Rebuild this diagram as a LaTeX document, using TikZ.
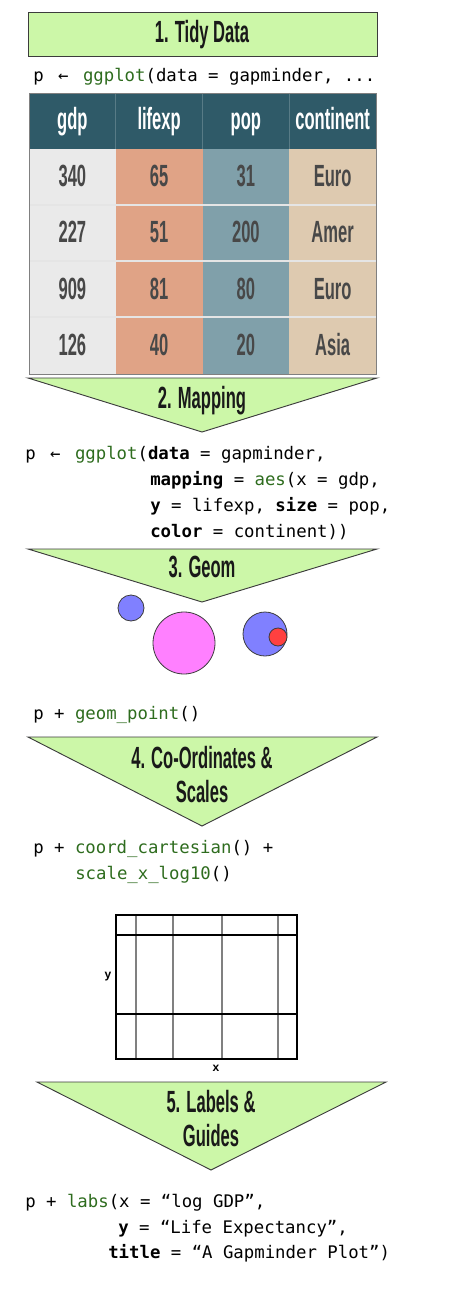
\documentclass[tikz,border=0pt]{standalone}
\usepackage{fontspec}
\usepackage{xcolor}
\usetikzlibrary{positioning}
\newfontfamily\headfont[FakeStretch=0.54]{Liberation Sans}
\newfontfamily\codefont{DejaVu Sans Mono}
\newfontfamily\axisfont{Liberation Sans}
\definecolor{stagegreen}{RGB}{204,247,168}
\definecolor{edgegray}{RGB}{60,60,60}
\definecolor{headteal}{RGB}{47,90,104}
\definecolor{gdpgray}{RGB}{234,234,234}
\definecolor{lifesalmon}{RGB}{224,163,134}
\definecolor{popteal}{RGB}{128,160,170}
\definecolor{contsand}{RGB}{222,202,176}
\definecolor{celltext}{RGB}{72,72,72}
\definecolor{codegreen}{RGB}{46,108,30}
\definecolor{ptblue}{RGB}{128,128,255}
\definecolor{ptpink}{RGB}{255,128,255}
\definecolor{ptred}{RGB}{255,64,64}
\newcommand{\fn}[1]{\textcolor{codegreen}{#1}}
\newcommand{\arr}{\kern3pt←\kern3pt}

\begin{document}
\begin{tikzpicture}[x=0.75pt, y=-0.75pt,
  stage/.style={fill=stagegreen, draw=edgegray, line width=0.7pt},
  stagetext/.style={font=\headfont\bfseries\fontsize{23}{25.5}\selectfont, text=black!90, anchor=base, inner sep=0pt, align=center},
  celltext/.style={font=\headfont\bfseries\fontsize{23}{26}\selectfont, text=celltext, anchor=base, inner sep=0pt},
  headtext/.style={celltext, text=white},
  codeline/.style={font=\codefont\fontsize{13}{19.5}\selectfont, anchor=base west, inner sep=0pt},
  axislabel/.style={font=\axisfont\bfseries\fontsize{9}{10}\selectfont, inner sep=0pt}]
  \useasboundingbox (0,0) rectangle (459,1291);

  % 1. tidy data
  \draw[stage] (28,12) rectangle (377,56);
  \node[stagetext] (tidy) at (202,43) {1. Tidy Data};
  \node[codeline] (codedata) at (33,82) {p \arr{} \fn{ggplot}(data = gapminder, ...};

  % table
  \def\rowh{56} \def\colw{86.75}
  \fill[headteal] (29,93) rectangle (376,149);
  \foreach \colr [count=\i from 0] in {gdpgray, lifesalmon, popteal, contsand}
    \fill[\colr] (29+\i*\colw,149) rectangle (29+\i*\colw+\colw,374);
  \foreach \i in {1,2,3}
    \draw[headteal!80!white, line width=0.6pt] (29+\i*\colw,93) -- (29+\i*\colw,149);
  \foreach \r in {1,2,3}
    \draw[white!80!gray, line width=0.8pt] (29,149+\r*\rowh) -- (376,149+\r*\rowh);
  \draw[gray, line width=0.6pt] (29,93) rectangle (376,374);
  \foreach \h [count=\i from 0] in {gdp, lifexp, pop, continent}
    \node[headtext] (head\i) at (29+\i*\colw+\colw/2,130) {\h};
  \foreach \a/\b/\c/\d [count=\r from 0] in {340/65/31/Euro, 227/51/200/Amer,
      909/81/80/Euro, 126/40/20/Asia} {
    \node[celltext] (gdp\r) at (29+0.5*\colw,187+\r*\rowh) {\a};
    \node[celltext] (life\r) at (29+1.5*\colw,187+\r*\rowh) {\b};
    \node[celltext] (pop\r) at (29+2.5*\colw,187+\r*\rowh) {\c};
    \node[celltext] (cont\r) at (29+3.5*\colw,187+\r*\rowh) {\d};
  }

  % 2. mapping
  \draw[stage] (28,378) -- (377,378) -- (202,432) -- cycle;
  \node[stagetext] (mapping) at (202,408) {2. Mapping};
  \node[codeline] (codemap) at (25,459) {p \arr{} \fn{ggplot}(\textbf{data} = gapminder,};
  \node[codeline] (codemapa) at (150,485) {\textbf{mapping} = \fn{aes}(x = gdp,};
  \node[codeline] (codemapb) at (150,511) {\textbf{y} = lifexp, \textbf{size} = pop,};
  \node[codeline] (codemapc) at (150,537) {\textbf{color} = continent))};

  % 3. geom
  \draw[stage] (28,549) -- (377,549) -- (202,602) -- cycle;
  \node[stagetext] (geom) at (202,577) {3. Geom};
  \filldraw[fill=ptblue, draw=edgegray, line width=0.6pt] (131,608) circle (13);
  \filldraw[fill=ptpink, draw=edgegray, line width=0.6pt] (184,643) circle (31);
  \filldraw[fill=ptblue, draw=edgegray, line width=0.6pt] (265,634) circle (22);
  \filldraw[fill=ptred, draw=edgegray, line width=0.6pt] (278,637) circle (9);
  \node[codeline] (codegeom) at (33,719) {p + \fn{geom\_point}()};

  % 4. co-ordinates & scales (base = last line)
  \draw[stage] (28,737) -- (377,737) -- (202,826) -- cycle;
  \node[stagetext] (coords) at (202,802) {4. Co-Ordinates \&\\Scales};
  \node[codeline] (codecoord) at (33,853) {p + \fn{coord\_cartesian}() +};
  \node[codeline] (codescale) at (75,879) {\fn{scale\_x\_log10}()};

  % panel grid
  \foreach \x in {136,173,222,278}
    \draw[gray, line width=1.1pt] (\x,915) -- (\x,1059);
  \foreach \y in {935,1014}
    \draw[black, line width=0.8pt] (116,\y) -- (297,\y);
  \draw[black, line width=1.5pt] (116,915) rectangle (297,1059);
  \node[axislabel] (ylab) at (108,977) {y};
  \node[axislabel] (xlab) at (216,1068) {x};

  % 5. labels & guides
  \draw[stage] (37,1082) -- (386,1082) -- (211,1170) -- cycle;
  \node[stagetext] (labels) at (211,1146) {5. Labels \&\\Guides};
  \node[codeline] (codelabs) at (25,1207) {p + \fn{labs}(x = “log GDP”,};
  \node[codeline] (codelabsa) at (118,1233) {\textbf{y} = “Life Expectancy”,};
  \node[codeline] (codelabsb) at (108,1258) {\textbf{title} = “A Gapminder Plot”)};
\end{tikzpicture}
\end{document}
